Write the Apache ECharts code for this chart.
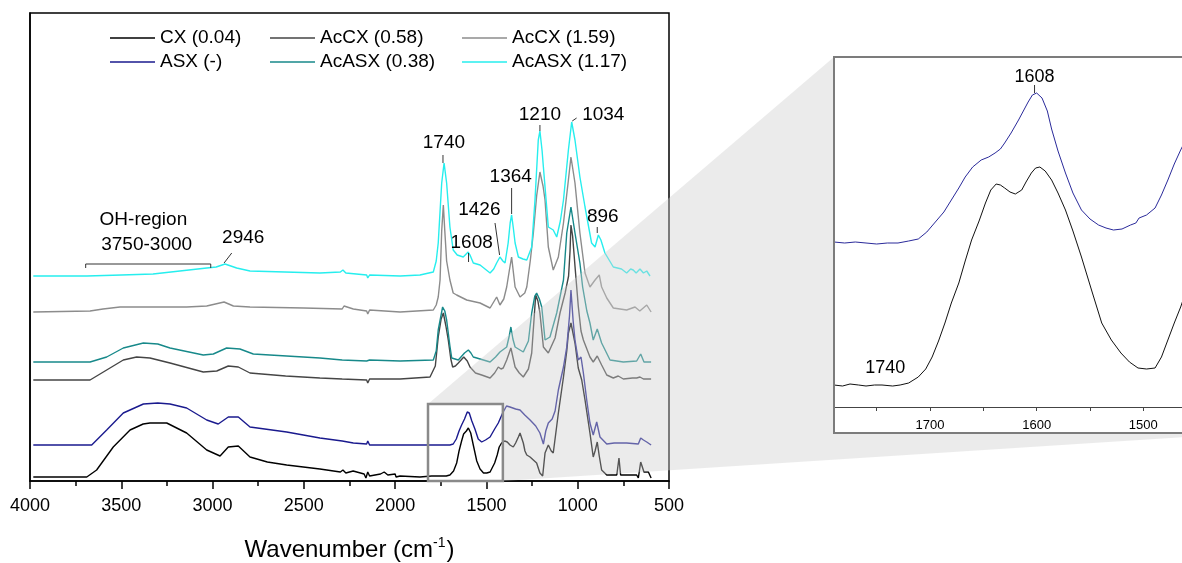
<!DOCTYPE html>
<html><head><meta charset="utf-8">
<script src="https://cdn.jsdelivr.net/npm/echarts@6/dist/echarts.min.js"></script>
<style>html,body{margin:0;padding:0;background:#fff}#c{width:1182px;height:563px}</style>
</head><body><div id="c"></div>
<script>
// ---------- data: [wavenumber (cm-1), offset absorbance (arb. units)] ----------
const CX = [[3982,4],[3800,4],[3689,4],[3635,11],[3544,34],[3452,51],[3380,57],[3343,58],[3251,58],[3142,48],[3032,31],[2959,25],[2914,34],[2859,35],[2795,24],[2700,19],[2594,16],[2412,12],[2300,9],[2286,11],[2270,8],[2230,10],[2170,7],[2160,3],[2150,9],[2140,5],[2080,7],[2060,9],[2040,6],[2000,7],[1995,4],[1973,5],[1864,4],[1800,5],[1720,5],[1700,6],[1680,10],[1663,18],[1650,30],[1636,40],[1625,47],[1617,48],[1610,50],[1599,53],[1586,48],[1572,36],[1553,20],[1535,12],[1516,8],[1498,8],[1480,9],[1471,11],[1455,18],[1441,26],[1430,34],[1417,38],[1400,40],[1386,39],[1371,36],[1353,34],[1340,38],[1325,44],[1316,48],[1298,38],[1289,30],[1279,26],[1261,24],[1243,21],[1225,18],[1207,8],[1192,5],[1179,28],[1161,36],[1145,30],[1134,28],[1115,55],[1106,68],[1078,104],[1060,130],[1051,148],[1037,158],[1015,138],[997,113],[978,101],[960,81],[933,48],[915,24],[905,30],[893,39],[882,25],[869,11],[841,6],[800,6],[786,6],[774,23],[765,6],[740,6],[700,6],[677,6],[668,3],[655,19],[637,9],[613,9],[598,3]];
const AcCX058 = [[3982,101],[3671,101],[3580,111],[3489,121],[3416,124],[3343,123],[3233,118],[3051,109],[2977,110],[2914,115],[2859,114],[2795,108],[2600,105],[2412,103],[2290,102],[2280,104],[2156,101],[2150,98],[2140,102],[2060,102],[1973,102],[1809,104],[1780,115],[1764,144],[1748,162],[1736,168],[1722,155],[1709,141],[1695,122],[1685,114],[1670,115],[1654,118],[1624,124],[1605,120],[1590,114],[1560,108],[1526,106],[1480,103],[1455,108],[1435,114],[1420,112],[1408,113],[1389,121],[1366,133],[1343,114],[1320,108],[1298,104],[1270,112],[1252,128],[1238,165],[1230,186],[1218,180],[1207,168],[1188,134],[1161,128],[1124,143],[1097,168],[1069,188],[1050,205],[1042,230],[1037,256],[1028,245],[1015,215],[997,175],[982,150],[969,141],[933,124],[915,119],[893,125],[869,116],[841,106],[805,103],[778,105],[750,102],[700,103],[677,103],[659,104],[640,102],[598,102]];
const AcCX159 = [[3982,169],[3671,170],[3600,172],[3507,174],[3142,174],[3032,175],[2937,179],[2886,175],[2795,174],[2500,173],[2290,172],[2280,175],[2229,172],[2156,170],[2150,167],[2140,171],[1973,169],[1791,171],[1775,176],[1764,184],[1754,201],[1745,250],[1736,276],[1728,250],[1718,220],[1700,201],[1682,188],[1663,186],[1608,181],[1535,178],[1480,173],[1444,184],[1426,176],[1405,182],[1389,194],[1375,210],[1362,224],[1350,205],[1343,194],[1316,184],[1290,188],[1279,194],[1260,220],[1243,248],[1225,285],[1207,309],[1190,295],[1179,281],[1161,234],[1134,211],[1106,224],[1078,258],[1051,301],[1037,324],[1015,298],[988,248],[960,208],[933,194],[905,201],[882,206],[869,194],[841,183],[805,173],[732,171],[686,174],[660,170],[622,176],[598,169]];
const ASX = [[3982,36],[3800,36],[3662,36],[3580,51],[3489,68],[3379,77],[3300,78],[3233,77],[3142,73],[3032,61],[2969,57],[2914,64],[2859,64],[2795,54],[2594,49],[2412,43],[2290,40],[2280,42],[2229,38],[2156,37],[2150,40],[2140,36],[1973,36],[1864,36],[1800,36],[1700,36],[1682,37],[1665,42],[1650,50],[1636,56],[1620,62],[1605,69],[1594,68],[1580,60],[1563,52],[1545,42],[1526,39],[1505,41],[1480,44],[1455,52],[1435,58],[1411,68],[1390,75],[1371,74],[1340,72],[1316,71],[1290,66],[1261,61],[1230,55],[1207,48],[1188,37],[1175,50],[1161,58],[1140,62],[1124,70],[1106,91],[1078,114],[1060,134],[1045,165],[1037,191],[1025,160],[1015,141],[997,121],[982,124],[969,108],[950,80],[933,58],[915,46],[896,59],[878,44],[841,37],[800,38],[732,38],[668,37],[655,43],[640,41],[622,39],[598,36]];
const AcASX038 = [[3982,119],[3671,119],[3580,124],[3489,133],[3379,138],[3300,137],[3233,133],[3051,126],[2996,127],[2923,133],[2850,132],[2777,127],[2412,123],[2290,121],[2280,123],[2156,120],[2150,118],[2140,121],[1973,120],[1791,121],[1775,130],[1764,151],[1740,174],[1728,170],[1718,161],[1700,135],[1690,123],[1654,121],[1620,128],[1599,131],[1585,128],[1572,124],[1553,123],[1480,119],[1450,124],[1426,129],[1389,134],[1375,145],[1366,154],[1355,142],[1343,134],[1298,129],[1270,140],[1252,168],[1235,185],[1225,188],[1210,182],[1197,174],[1179,141],[1152,144],[1115,168],[1078,201],[1060,248],[1037,274],[1015,248],[988,218],[973,194],[950,170],[933,158],[915,141],[893,152],[869,138],[823,121],[750,119],[677,120],[655,127],[637,119],[598,119]];
const AcASX117 = [[3982,205],[3689,205],[3500,206],[3326,207],[3032,213],[2980,214],[2932,217],[2900,215],[2868,213],[2795,210],[2412,208],[2300,209],[2286,211],[2270,208],[2156,206],[2150,203],[2140,206],[1973,205],[1864,206],[1791,209],[1775,220],[1764,238],[1745,298],[1732,318],[1718,298],[1700,254],[1682,231],[1660,226],[1627,224],[1600,229],[1590,226],[1572,218],[1535,216],[1480,208],[1460,212],[1444,218],[1426,224],[1410,220],[1398,218],[1381,238],[1370,258],[1362,266],[1352,252],[1343,238],[1325,224],[1300,222],[1279,221],[1252,234],[1234,281],[1216,341],[1207,350],[1195,330],[1188,314],[1161,254],[1134,251],[1115,244],[1095,260],[1078,281],[1051,331],[1033,359],[1015,341],[988,304],[960,274],[924,238],[905,234],[887,246],[873,241],[851,228],[805,214],[760,212],[732,208],[710,212],[696,211],[680,208],[659,212],[640,208],[622,210],[604,205]];
// zoom (inset) spectra, 1790-1400 cm-1
const ASXZoom = [[1790,165],[1780,164],[1770,165],[1760,164],[1750,163],[1740,164],[1730,164],[1720,166],[1711,168],[1703,175],[1695,185],[1687,195],[1680,207],[1673,219],[1667,230],[1660,240],[1652,247],[1645,250],[1639,254],[1634,258],[1630,264],[1624,274],[1617,287],[1612,297],[1608,305],[1604,312],[1600,314],[1595,309],[1590,296],[1586,278],[1580,256],[1573,234],[1566,214],[1558,197],[1550,188],[1542,182],[1535,179],[1528,177],[1520,178],[1512,182],[1507,184],[1504,189],[1497,192],[1489,199],[1483,212],[1477,227],[1471,243],[1465,257],[1458,272],[1450,288],[1440,303],[1430,318],[1415,333],[1400,345]];
const CXZoom = [[1790,22],[1782,21],[1775,23],[1767,22],[1760,21],[1752,22],[1745,22],[1735,21],[1728,22],[1720,24],[1711,30],[1704,38],[1698,50],[1692,66],[1686,84],[1680,104],[1673,124],[1667,146],[1661,167],[1654,186],[1648,204],[1643,217],[1638,223],[1634,222],[1630,219],[1625,215],[1620,213],[1614,217],[1610,225],[1605,234],[1601,239],[1597,240],[1592,236],[1586,227],[1580,214],[1573,197],[1566,176],[1558,150],[1548,115],[1539,84],[1530,67],[1521,54],[1513,45],[1505,39],[1497,38],[1489,39],[1483,50],[1477,67],[1471,84],[1465,100],[1458,122],[1450,148],[1440,175],[1430,200],[1415,225],[1400,240]];

const seriesNames = ['CX (0.04)','AcCX (0.58)','AcCX (1.59)','ASX (-)','AcASX (0.38)','AcASX (1.17)'];
const seriesColors = ['#000000','#454545','#8c8c8c','#1a1a8e','#17898a','#26eeee'];
const mainData = [CX, AcCX058, AcCX159, ASX, AcASX038, AcASX117];

// peak annotations (data units of the main panel)
const peakLabels = [
  {t:'1740', at:[1733,338], from:[1738,326], to:[1738,318]},
  {t:'1608', at:[1581,238], from:[1598,228], to:[1598,219]},
  {t:'1426', at:[1539,271], from:[1453,258], to:[1428,226]},
  {t:'1364', at:[1367,304], from:[1362,293], to:[1362,267]},
  {t:'1210', at:[1207,366], from:[1207,356], to:[1207,350]},
  {t:'1034', at:[860,366],  from:[1006,363], to:[1030,360]},
  {t:'896',  at:[863,264],  from:[893,254],  to:[893,248]},
  {t:'2946', at:[2832,243], from:[2895,228], to:[2937,218]}
];
const ohText = ['OH-region','3750-3000'];
const ohTextAt = [[3379,261],[3361,236]];
const ohBracket = {from:3695, to:3010, level:217, drop:4};
const zoomWindow = {from:1820, to:1410, top:77};
const insetLabels = [
  {t:'1608', at:[1602,330], from:[1602,322], to:[1602,314]},
  {t:'1740', at:[1742,39]}
];

const FONT = "'Liberation Sans', Arial, sans-serif";

const chart = echarts.init(document.getElementById('c'), null, {renderer:'canvas'});

const series = mainData.map((d,i)=>({
  name: seriesNames[i], type:'line', data:d, xAxisIndex:0, yAxisIndex:0,
  symbol:'none', smooth:false, color:seriesColors[i], itemStyle:{color:seriesColors[i]},
  lineStyle:{color:seriesColors[i], width:1.4}, z:2, silent:true
}));
series.push({name:'ASX zoom', type:'line', data:ASXZoom, xAxisIndex:1, yAxisIndex:1, symbol:'none',
  color:'#2a2a9a', lineStyle:{color:'#2a2a9a', width:1}, silent:true});
series.push({name:'CX zoom', type:'line', data:CXZoom, xAxisIndex:1, yAxisIndex:1, symbol:'none',
  color:'#111', lineStyle:{color:'#111', width:1}, silent:true});

const legendLeft = [110, 270, 462];
const legends = [0,1,2].map(i=>({
  orient:'vertical', left:legendLeft[i], top:28, padding:0,
  data:[seriesNames[i], seriesNames[i+3]], icon:'rect', itemWidth:45, itemHeight:1.6, itemGap:4,
  selectedMode:false,
  textStyle:{fontSize:19, fontFamily:FONT, color:'#000', lineHeight:20}
}));

chart.setOption({
  animation:false,
  backgroundColor:'#fff',
  grid:[
    {left:30, top:13, width:639, height:468, show:true, borderColor:'#000', borderWidth:1.5,
     backgroundColor:'transparent', outerBoundsMode:'none', containLabel:false},
    {left:834, top:57, width:416, height:350, show:false, outerBoundsMode:'none', containLabel:false}
  ],
  legend: legends,
  xAxis:[
    {gridIndex:0, type:'value', min:500, max:4000, interval:500, inverse:true,
     axisLine:{show:true, onZero:false, lineStyle:{color:'#000', width:1.5}},
     axisTick:{show:true, inside:false, length:8, lineStyle:{color:'#000', width:1.5}},
     minorTick:{show:true, splitNumber:2, length:5, lineStyle:{color:'#000', width:1.5}},
     splitLine:{show:false},
     axisLabel:{fontSize:18, fontFamily:FONT, color:'#000', margin:16, formatter:v=>String(v)},
     name:'Wavenumber (cm{sup|-1})', nameLocation:'middle', nameGap:55,
     nameTextStyle:{fontSize:24, fontFamily:FONT, color:'#000',
       rich:{sup:{fontSize:14, fontFamily:FONT, color:'#000', verticalAlign:'top', padding:[0,1,14,0]}}}},
    {gridIndex:1, type:'value', min:1400, max:1790, interval:100, inverse:true,
     axisLine:{show:true, onZero:false, lineStyle:{color:'#444', width:1}},
     axisTick:{show:true, inside:false, length:4, lineStyle:{color:'#444'}},
     minorTick:{show:true, splitNumber:2, length:4, lineStyle:{color:'#444'}},
     splitLine:{show:false},
     axisLabel:{fontSize:13, fontFamily:FONT, color:'#000', margin:12,
       formatter:v=> (v % 100 === 0 ? String(v) : '')}}
  ],
  yAxis:[
    {gridIndex:0, type:'value', min:0, max:468,
     axisLine:{show:true, onZero:false, lineStyle:{color:'#000', width:1.5}},
     axisTick:{show:false}, axisLabel:{show:false}, splitLine:{show:false}},
    {gridIndex:1, type:'value', min:0, max:350, show:false, splitLine:{show:false}}
  ],
  series: series
});

// ---------- annotations & zoom connector, placed through the axes ----------
function P(pt){ return chart.convertToPixel({xAxisIndex:0, yAxisIndex:0}, pt); }
function Q(pt){ return chart.convertToPixel({xAxisIndex:1, yAxisIndex:1}, pt); }

const g = [];
const rTL = P([zoomWindow.from, zoomWindow.top]);
const rBR = P([zoomWindow.to, 0]);
const iTL = Q([1790, 350]);
const iBR = Q([1400, 0]);
const boxBottom = iBR[1] + 26;

g.push({type:'polygon', z:100, silent:true,
  shape:{points:[rTL, iTL, [iTL[0], boxBottom], [iBR[0], boxBottom], rBR, [rBR[0], rTL[1]]]},
  style:{fill:'rgba(206,206,206,0.41)', stroke:null}});
g.push({type:'rect', z:101, silent:true,
  shape:{x:rTL[0], y:rTL[1], width:rBR[0]-rTL[0], height:rBR[1]-rTL[1]},
  style:{fill:null, stroke:'#8a8a8a', lineWidth:2.5}});
g.push({type:'rect', z:101, silent:true,
  shape:{x:iTL[0], y:iTL[1], width:iBR[0]-iTL[0]+10, height:boxBottom-iTL[1]},
  style:{fill:null, stroke:'#7c7c7c', lineWidth:2}});

peakLabels.forEach(p=>{
  const a = P(p.at);
  g.push({type:'text', z:110, silent:true, x:a[0], y:a[1],
    style:{text:p.t, font:'19px '+FONT, fill:'#000', align:'center', verticalAlign:'middle'}});
  const f = P(p.from), t = P(p.to);
  g.push({type:'line', z:110, silent:true, shape:{x1:f[0], y1:f[1], x2:t[0], y2:t[1]},
    style:{stroke:'#000', lineWidth:0.8}});
});
ohText.forEach((s,i)=>{
  const a = P(ohTextAt[i]);
  g.push({type:'text', z:110, silent:true, x:a[0], y:a[1],
    style:{text:s, font:'19px '+FONT, fill:'#000', align:'center', verticalAlign:'middle'}});
});
{
  const l = P([ohBracket.from, ohBracket.level]), r = P([ohBracket.to, ohBracket.level]);
  const ld = P([ohBracket.from, ohBracket.level - ohBracket.drop]), rd = P([ohBracket.to, ohBracket.level - ohBracket.drop]);
  g.push({type:'polyline', z:110, silent:true, shape:{points:[ld, l, r, rd]},
    style:{stroke:'#333', lineWidth:1, fill:null}});
}
insetLabels.forEach(p=>{
  const a = Q(p.at);
  g.push({type:'text', z:110, silent:true, x:a[0], y:a[1],
    style:{text:p.t, font:'18px '+FONT, fill:'#000', align:'center', verticalAlign:'middle'}});
  if (p.from){
    const f = Q(p.from), t = Q(p.to);
    g.push({type:'line', z:110, silent:true, shape:{x1:f[0], y1:f[1], x2:t[0], y2:t[1]},
      style:{stroke:'#000', lineWidth:0.8}});
  }
});
chart.setOption({graphic:g});
</script></body></html>
